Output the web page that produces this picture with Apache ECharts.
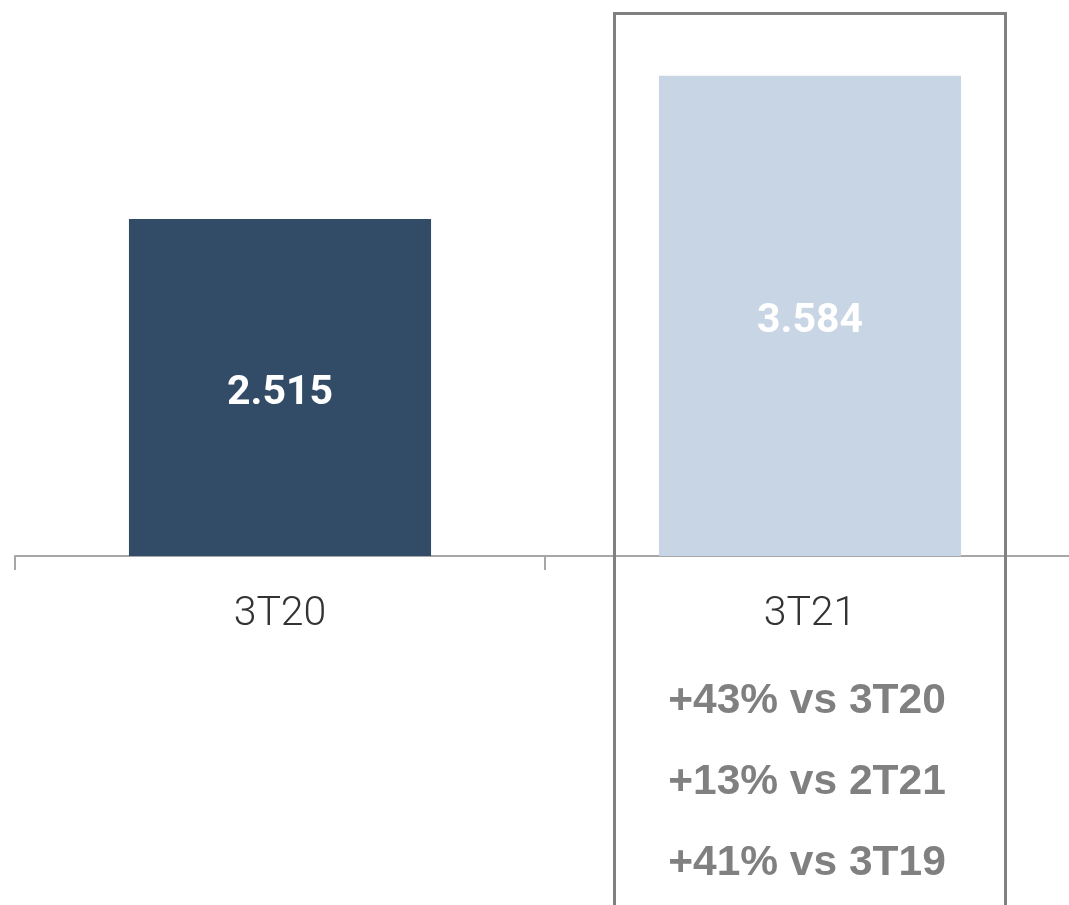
<!DOCTYPE html>
<html>
<head>
<meta charset="utf-8">
<script src="https://cdn.jsdelivr.net/npm/echarts@6/dist/echarts.min.js"></script>
<style>html,body{margin:0;padding:0;background:#fff}#c{width:1069px;height:905px}</style>
</head>
<body>
<div id="c"></div>
<script>
const categories = ['3T20', '3T21'];
const values = [2.515, 3.584];
const valueLabels = ['2.515', '3.584'];
const barColors = ['#324b67', '#c8d5e5'];
const notes = [[], ['+43% vs 3T20', '+13% vs 2T21', '+41% vs 3T19']];

const chart = echarts.init(document.getElementById('c'));
chart.setOption({
  animation: false,
  grid: { left: 15, width: 1060, top: 20, bottom: 349, containLabel: false, outerBoundsMode: 'none' },
  xAxis: {
    type: 'category',
    data: categories,
    axisLine: { lineStyle: { color: '#a6a6a6', width: 2 } },
    axisTick: { show: true, length: 14, lineStyle: { color: '#a6a6a6', width: 2 } },
    axisLabel: {
      margin: 12,
      formatter: function (v, i) {
        let s = '{a|' + v + '}';
        notes[i].forEach(n => { s += '\n{b|' + n + '}'; });
        return s;
      },
      rich: {
        a: { fontFamily: 'Roboto', fontWeight: 300, fontSize: 41, color: '#333333', lineHeight: 93 },
        b: { fontFamily: 'Liberation Sans', fontWeight: 'bold', fontSize: 42.5, color: '#808080', lineHeight: 81, padding: [0, 6, 0, 0] }
      }
    }
  },
  yAxis: { type: 'value', min: 0, max: 4, show: false, splitLine: { show: false } },
  series: [{
    type: 'bar',
    barWidth: '57%',
    data: values.map((v, i) => ({ value: v, itemStyle: { color: barColors[i] } })),
    label: {
      show: true,
      position: 'inside',
      offset: [0, 6],
      formatter: p => valueLabels[p.dataIndex],
      fontFamily: 'Roboto',
      fontWeight: 'bold',
      fontSize: 41,
      color: '#ffffff'
    }
  }],
  graphic: [{
    type: 'rect',
    shape: { x: 614.5, y: 13.5, width: 391, height: 1000 },
    style: { fill: 'none', stroke: '#808080', lineWidth: 3 },
    z: 10
  }]
});
</script>
</body>
</html>
